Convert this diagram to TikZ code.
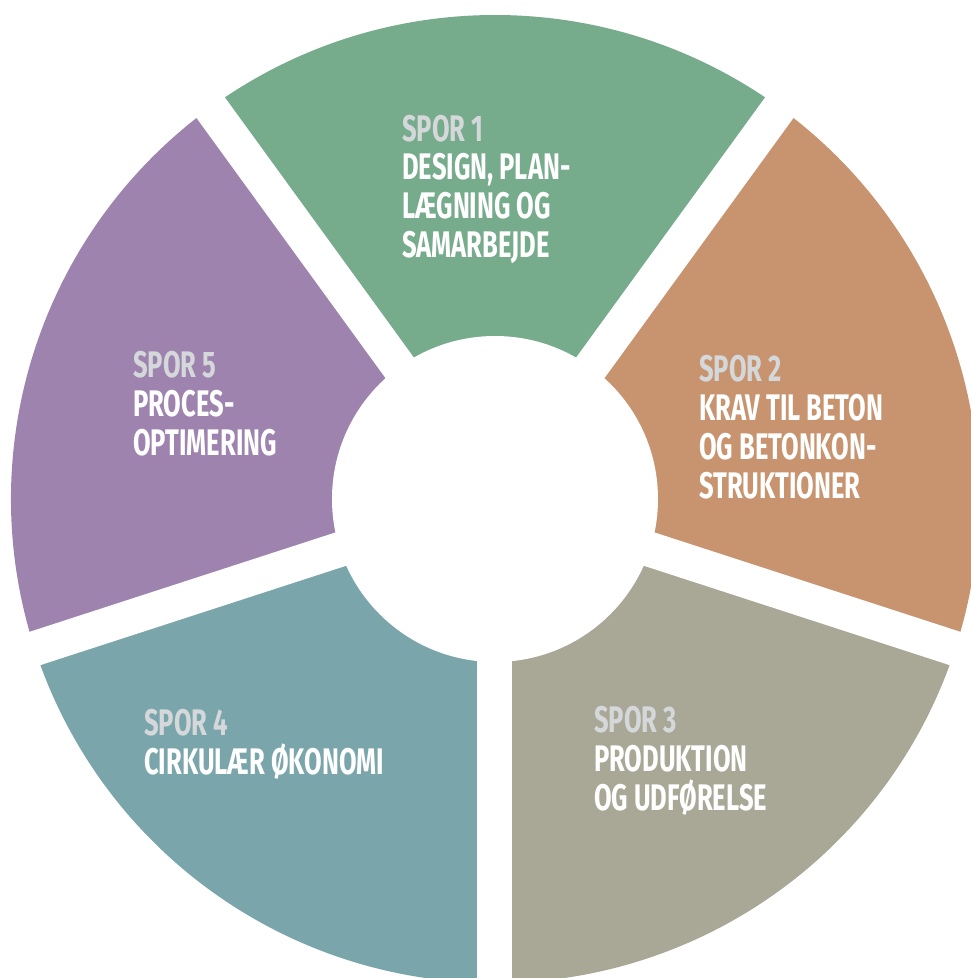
\documentclass[tikz,border=0pt]{standalone}
\usepackage{fontspec}
\newfontfamily\sporfont[FakeStretch=0.69]{Fira Sans}
\usepackage{tikz}
\usetikzlibrary{positioning}
\definecolor{SporGreen}{HTML}{76AB8C}
\definecolor{SporOrange}{HTML}{C8946F}
\definecolor{SporGrey}{HTML}{A9A896}
\definecolor{SporTeal}{HTML}{7AA6AB}
\definecolor{SporPurple}{HTML}{9E83AE}
\definecolor{SporLabel}{HTML}{D5D8DA}
\tikzset{
  sportext/.style={anchor=base west, inner sep=0pt, align=left, text=white, font=\sporfont\bfseries\fontsize{37}{39}\selectfont},
  gapline/.style={white, line width=35pt}
}

\begin{document}
\begin{tikzpicture}[x=1pt, y=1pt]
  \useasboundingbox (-495,-479) rectangle (475,499);
  % segments
  \foreach \mid/\col in {90/SporGreen, 18/SporOrange, -54/SporGrey, -126/SporTeal, 162/SporPurple} {
    \fill[\col] (0,0) -- (\mid-36:484) arc[start angle=\mid-36, end angle=\mid+36, radius=484] -- cycle;
  }
  \foreach \gap in {54, -18, -90, -162, 126} {
    \draw[gapline] (0,0) -- (\gap:520);
  }
  \fill[white] (0,0) circle (163);
  % labels (base = last line)
  \node[sportext] (spor1) at (-93,241) {\textcolor{SporLabel}{SPOR 1}\\DESIGN, PLAN-\\LÆGNING OG\\SAMARBEJDE};
  \node[sportext] (spor2) at (204,1) {\textcolor{SporLabel}{SPOR 2}\\KRAV TIL BETON\\OG BETONKON-\\STRUKTIONER};
  \node[sportext] (spor3) at (99,-311) {\textcolor{SporLabel}{SPOR 3}\\PRODUKTION\\OG UDFØRELSE};
  \node[sportext] (spor4) at (-351,-275) {\textcolor{SporLabel}{SPOR 4}\\CIRKULÆR ØKONOMI};
  \node[sportext] (spor5) at (-362,44) {\textcolor{SporLabel}{SPOR 5}\\PROCES-\\OPTIMERING};
\end{tikzpicture}
\end{document}
